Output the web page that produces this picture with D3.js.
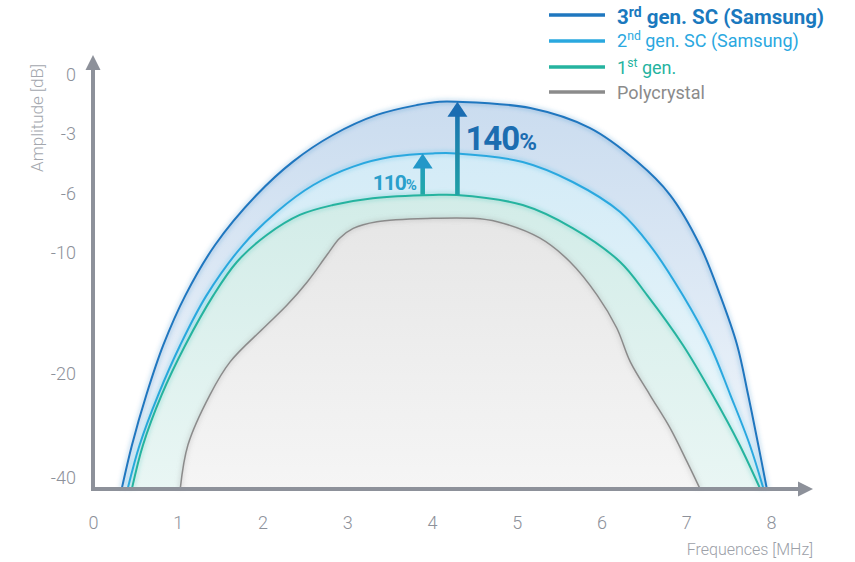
<!DOCTYPE html>
<html>
<head>
<meta charset="utf-8">
<script src="https://cdn.jsdelivr.net/npm/d3@7"></script>
<style>
  body { margin: 0; background: #fff; }
  svg { display: block; font-family: Roboto, "Noto Sans", sans-serif; }
</style>
</head>
<body>
<div id="chart"></div>
<script>
// tick labels
var xTicks = [0, 1, 2, 3, 4, 5, 6, 7, 8];
var yTicks = [0, -3, -6, -10, -20, -40];
var yFloor = -42; // curves run down to the axis line, just below -40

// frequency [MHz] / amplitude [dB]
var gen3X = [0.34, 0.46, 0.63, 0.83, 1.09, 1.44, 1.93, 2.36, 2.83, 3.35, 3.82, 4.09, 4.29, 5.16, 5.86, 6.42, 6.81, 7.16, 7.40, 7.60, 7.73, 7.85, 7.95];
var gen3Y = [-42, -33.65, -24.0, -17.6, -13.5, -9.46, -6.07, -4.38, -3.05, -2.03, -1.53, -1.36, -1.36, -1.68, -2.69, -4.38, -6.07, -9.46, -13.5, -17.6, -24.0, -33.65, -42];

var gen2X = [0.41, 0.55, 0.77, 1.03, 1.34, 1.77, 2.17, 2.60, 3.07, 3.54, 4.01, 4.29, 5.07, 5.66, 6.22, 6.57, 6.96, 7.28, 7.52, 7.75, 7.91];
var gen2Y = [-42, -33.65, -24.0, -17.6, -13.5, -9.46, -7.2, -5.55, -4.63, -4.13, -3.97, -3.97, -4.4, -5.4, -7.22, -9.46, -13.5, -17.6, -24.0, -33.65, -42];

var gen1X = [0.46, 0.59, 0.81, 1.09, 1.42, 1.70, 2.05, 2.44, 2.83, 3.30, 4.01, 4.29, 5.07, 5.66, 6.22, 6.54, 6.96, 7.31, 7.63, 7.87];
var gen1Y = [-42, -33.65, -24.0, -17.6, -13.5, -10.72, -8.78, -7.42, -6.75, -6.29, -6.07, -6.07, -6.75, -8.31, -10.74, -13.5, -17.6, -24.0, -33.65, -42];

var polyX = [1.03, 1.12, 1.38, 1.62, 2.01, 2.29, 2.53, 2.76, 2.91, 3.07, 3.35, 4.01, 4.48, 4.77, 5.27, 5.63, 5.95, 6.18, 6.34, 6.57, 6.81, 7.01, 7.16];
var polyY = [-42, -33.65, -24.0, -18.98, -16.22, -14.3, -12.37, -10.17, -9.0, -8.33, -7.88, -7.65, -7.65, -7.88, -8.98, -10.74, -13.5, -16.2, -19.0, -24.0, -30.4, -36.9, -42];

// gain arrows
var arrowX = [3.89, 4.30];
var arrowFrom = [-6.05, -6.07];
var arrowTo = [-3.97, -1.36];
var arrowLabel = ["110", "140"];

var legendNames = [
  {main: "3", sup: "rd", rest: " gen. SC (Samsung)"},
  {main: "2", sup: "nd", rest: " gen. SC (Samsung)"},
  {main: "1", sup: "st", rest: " gen."},
  {main: "Polycrystal", sup: "", rest: ""}
];

var W = 855, H = 562;

var svg = d3.select("#chart").append("svg")
  .attr("width", W)
  .attr("height", H);

var x = d3.scaleLinear().domain([0, 8]).range([93, 771]);
// the amplitude axis is not evenly spaced in the original
var y = d3.scaleLinear()
  .domain([0, -3, -6, -10, -20, -40])
  .range([75, 134, 194, 253, 374, 478]);

var axisCol = "#8d919a";

var series = [
  {xs: gen3X, ys: gen3Y, line: "#1f77bf", top: "#cadcef", bottom: "#f1f6fb", w: 2},
  {xs: gen2X, ys: gen2Y, line: "#2aa8df", top: "#cfe9f6", bottom: "#eef8fb", w: 2},
  {xs: gen1X, ys: gen1Y, line: "#25b39f", top: "#cbe9e4", bottom: "#e9f6f4", w: 2},
  {xs: polyX, ys: polyY, line: "#8b8b8b", top: "#e0e0e0", bottom: "#f5f5f5", w: 1.5}
];

var defs = svg.append("defs");

defs.append("filter").attr("id", "glow")
  .attr("x", "-10%").attr("y", "-10%").attr("width", "120%").attr("height", "120%")
  .append("feGaussianBlur").attr("stdDeviation", 2);

series.forEach(function(s, i) {
  var g = defs.append("linearGradient").attr("id", "fill" + i)
    .attr("gradientUnits", "userSpaceOnUse")
    .attr("x1", 0).attr("x2", 0)
    .attr("y1", y(-1.3)).attr("y2", y(yFloor));
  g.append("stop").attr("offset", "0%").attr("stop-color", s.top);
  g.append("stop").attr("offset", "100%").attr("stop-color", s.bottom);
});

var area = d3.area()
  .x(function(d) { return x(d[0]); })
  .y0(y(yFloor))
  .y1(function(d) { return y(d[1]); })
  .curve(d3.curveCatmullRom.alpha(0.5));

var line = d3.line()
  .x(function(d) { return x(d[0]); })
  .y(function(d) { return y(d[1]); })
  .curve(d3.curveCatmullRom.alpha(0.5));

var plot = svg.append("g");

series.forEach(function(s, i) {
  var pts = s.xs.map(function(v, k) { return [v, s.ys[k]]; });
  plot.append("path")
    .attr("d", area(pts))
    .attr("fill", "url(#fill" + i + ")");
  // soft halo like the original
  plot.append("path")
    .attr("d", line(pts))
    .attr("fill", "none")
    .attr("stroke", s.line)
    .attr("stroke-opacity", 0.22)
    .attr("stroke-width", 5)
    .attr("filter", "url(#glow)");
  plot.append("path")
    .attr("d", line(pts))
    .attr("fill", "none")
    .attr("stroke", s.line)
    .attr("stroke-width", s.w);
});

// arrows
var arrowTop = ["#2397c8", "#1b6db2"];
var arrowBot = ["#22a9a6", "#20a2a6"];
arrowX.forEach(function(v, i) {
  var gid = "arr" + i;
  var g = defs.append("linearGradient").attr("id", gid)
    .attr("gradientUnits", "userSpaceOnUse")
    .attr("x1", 0).attr("x2", 0)
    .attr("y1", y(arrowTo[i])).attr("y2", y(arrowFrom[i]));
  g.append("stop").attr("offset", "0%").attr("stop-color", arrowTop[i]);
  g.append("stop").attr("offset", "100%").attr("stop-color", arrowBot[i]);

  var ax = x(v), y0 = y(arrowFrom[i]), y1 = y(arrowTo[i]);
  plot.append("rect")
    .attr("x", ax - 2.3).attr("y", y1 + 10)
    .attr("width", 4.6).attr("height", y0 - y1 - 10)
    .attr("fill", "url(#" + gid + ")");
  plot.append("path")
    .attr("d", "M" + ax + "," + y1 + "L" + (ax + 10) + "," + (y1 + 15) + "L" + (ax - 10) + "," + (y1 + 15) + "Z")
    .attr("fill", arrowTop[i]);
});

var t110 = plot.append("text")
  .attr("x", x(arrowX[0]) - 50).attr("y", y(arrowFrom[0]) - 5)
  .attr("fill", "#2a9fcb").attr("font-weight", 700)
  .attr("letter-spacing", -1);
t110.append("tspan").attr("font-size", 21).text(arrowLabel[0]);
t110.append("tspan").attr("font-size", 15).text("%");

var t140 = plot.append("text")
  .attr("x", x(arrowX[1]) + 8).attr("y", y(-3.8))
  .attr("fill", "#1c6db0").attr("font-weight", 700)
  .attr("letter-spacing", -1);
t140.append("tspan").attr("font-size", 33).text(arrowLabel[1]);
t140.append("tspan").attr("font-size", 24).text("%");

// axes
var xAxis = svg.append("g")
  .attr("transform", "translate(0," + y(yFloor) + ")")
  .call(d3.axisBottom(x).tickValues(xTicks).tickSize(0).tickPadding(28));
xAxis.select(".domain").remove();
xAxis.selectAll("text")
  .attr("fill", axisCol).attr("font-size", 18).attr("font-weight", 300)
  .attr("font-family", "Roboto, sans-serif");

var yAxis = svg.append("g")
  .attr("transform", "translate(" + x(0) + ",0)")
  .call(d3.axisLeft(y).tickValues(yTicks).tickSize(0).tickPadding(17)
    .tickFormat(function(d) { return String(d); }));
yAxis.select(".domain").remove();
yAxis.selectAll("text")
  .attr("fill", axisCol).attr("font-size", 18).attr("font-weight", 300)
  .attr("font-family", "Roboto, sans-serif");

var bx = x(0), by = y(yFloor) + 0.5;
svg.append("line")
  .attr("x1", bx).attr("y1", 68).attr("x2", bx).attr("y2", by + 2)
  .attr("stroke", axisCol).attr("stroke-width", 4);
svg.append("path")
  .attr("d", "M" + bx + ",55L" + (bx + 7.5) + ",70L" + (bx - 7.5) + ",70Z")
  .attr("fill", axisCol);
svg.append("line")
  .attr("x1", bx - 2).attr("y1", by).attr("x2", 800).attr("y2", by)
  .attr("stroke", axisCol).attr("stroke-width", 4);
svg.append("path")
  .attr("d", "M813," + by + "L798," + (by - 7.5) + "L798," + (by + 7.5) + "Z")
  .attr("fill", axisCol);

svg.append("text")
  .attr("x", 813).attr("y", 555)
  .attr("text-anchor", "end")
  .attr("fill", "#9ca0a8").attr("font-size", 16).attr("font-weight", 300)
  .text("Frequences [MHz]");

svg.append("text")
  .attr("transform", "translate(43,118) rotate(-90)")
  .attr("text-anchor", "middle")
  .attr("fill", "#a3a7ae").attr("font-size", 17).attr("font-weight", 300)
  .text("Amplitude [dB]");

// legend
var legend = svg.append("g");
var legY = [15, 41, 67, 92];
var legSize = [20.5, 18, 18, 18];
var legOff = [9, 6, 7, 7];
legendNames.forEach(function(n, i) {
  legend.append("line")
    .attr("x1", 549).attr("x2", 605)
    .attr("y1", legY[i]).attr("y2", legY[i])
    .attr("stroke", series[i].line).attr("stroke-width", 3.5);
  var t = legend.append("text")
    .attr("x", 617).attr("y", legY[i] + legOff[i])
    .attr("fill", i === 0 ? "#1a79be" : i === 3 ? "#8b8b8b" : series[i].line)
    .attr("font-weight", i === 0 ? 700 : 400)
    .attr("font-size", legSize[i]);
  t.append("tspan").text(n.main);
  if (n.sup) {
    t.append("tspan").attr("dy", -7).attr("font-size", legSize[i] * 0.68).text(n.sup);
    t.append("tspan").attr("dy", 7).text(n.rest);
  }
});
</script>
</body>
</html>
